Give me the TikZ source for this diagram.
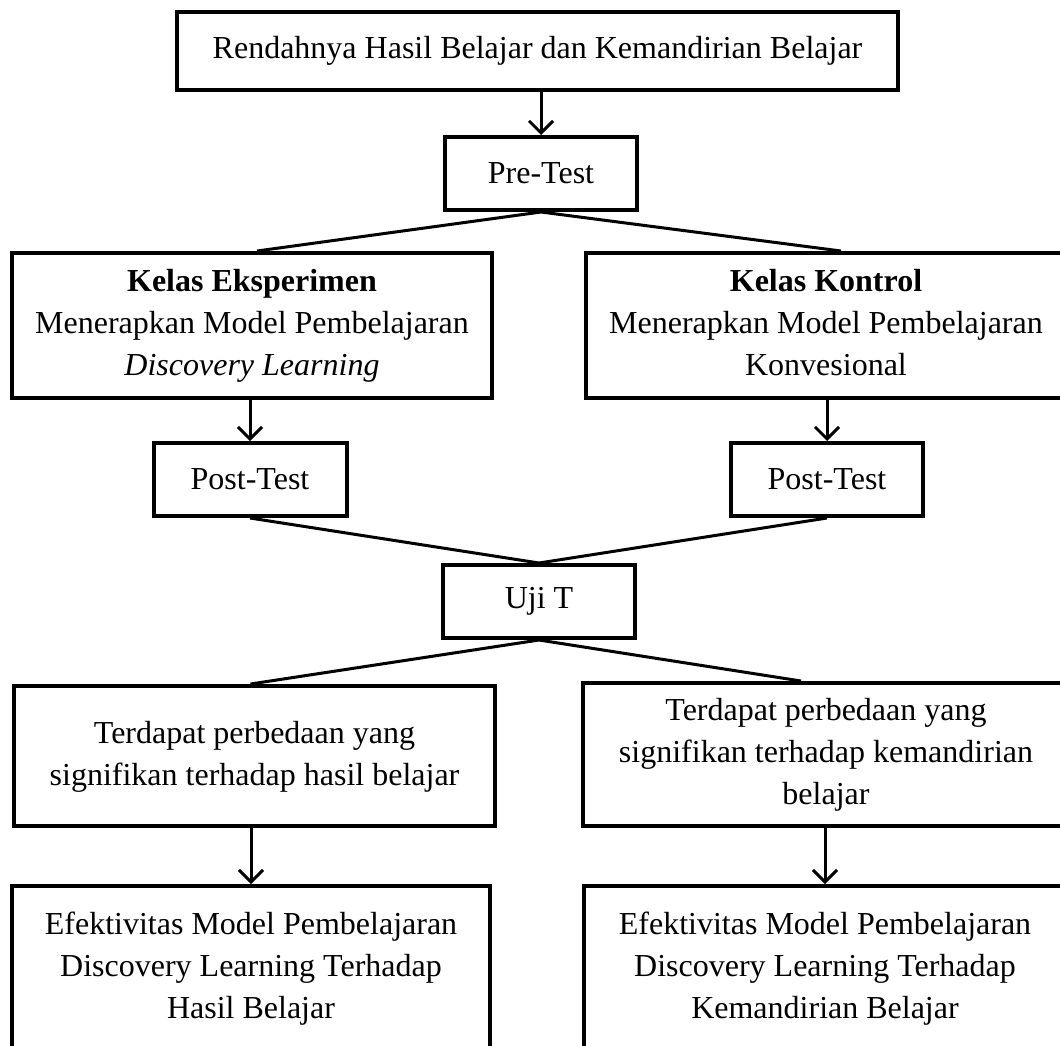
\documentclass[tikz,border=0pt]{standalone}
\usepackage{fontspec}
\setmainfont{Liberation Serif}
\usetikzlibrary{arrows.meta,calc}
\tikzset{
  box/.style={draw=black, line width=4pt, line join=miter, inner sep=0pt, align=center,
              font=\fontsize{32}{42}\selectfont, text=black},
  conn/.style={draw=black, line width=3pt},
  arr/.style={conn, -{Straight Barb[length=12pt,width=24pt,line width=3pt]}}
}
\begin{document}
\begin{tikzpicture}[x=1pt,y=-1pt]
\useasboundingbox (0,0) rectangle (1060,1045);
\fill[white] (0,0) rectangle (1060,1045);

\node[box, minimum width=721pt, minimum height=78pt] (top) at (537.5,51) {Rendahnya Hasil Belajar dan Kemandirian Belajar};
\node[box, minimum width=192pt, minimum height=73pt] (pre) at (541,173.5) {Pre-Test};
\node[box, minimum width=480pt, minimum height=145pt] (eks) at (252,325.5) {\strut\textbf{Kelas Eksperimen}\\Menerapkan Model Pembelajaran\\\textit{Discovery Learning}\strut};
\node[box, minimum width=480pt, minimum height=145pt] (kon) at (826,325.5) {\strut\textbf{Kelas Kontrol}\\Menerapkan Model Pembelajaran\\Konvesional\strut};
\node[box, minimum width=193pt, minimum height=73pt] (post1) at (250,479.5) {Post-Test};
\node[box, minimum width=192pt, minimum height=73pt] (post2) at (827,479.5) {Post-Test};
\node[box, minimum width=192pt, minimum height=73pt] (uji) at (539,601.5) {Uji T};
\node[box, minimum width=481pt, minimum height=140pt] (res1) at (254.5,756) {\strut Terdapat perbedaan yang\\signifikan terhadap hasil belajar\strut};
\node[box, minimum width=486pt, minimum height=143pt] (res2) at (826,754.5) {\strut Terdapat perbedaan yang\\signifikan terhadap kemandirian\\belajar\strut};
\node[box, minimum width=478pt, minimum height=164pt] (fin1) at (251,968) {\strut Efektivitas Model Pembelajaran\\Discovery Learning Terhadap\\Hasil Belajar\strut};
\node[box, minimum width=482pt, minimum height=164pt] (fin2) at (825,968) {\strut Efektivitas Model Pembelajaran\\Discovery Learning Terhadap\\Kemandirian Belajar\strut};

\draw[arr] (pre.north |- top.south) -- (pre.north);
\draw[conn] (pre.south) -- ($(eks.north)+(5,0)$);
\draw[conn] (pre.south) -- ($(kon.north)+(15,0)$);
\draw[arr] (post1.north |- eks.south) -- (post1.north);
\draw[arr] (post2.north |- kon.south) -- (post2.north);
\draw[conn] (post1.south) -- (uji.north);
\draw[conn] (post2.south) -- (uji.north);
\draw[conn] (uji.south) -- ($(res1.north)+(-4,0)$);
\draw[conn] (uji.south) -- ($(res2.north)+(-25,0)$);
\draw[arr] (fin1.north |- res1.south) -- (fin1.north);
\draw[arr] (fin2.north |- res2.south) -- (fin2.north);
\end{tikzpicture}
\end{document}
